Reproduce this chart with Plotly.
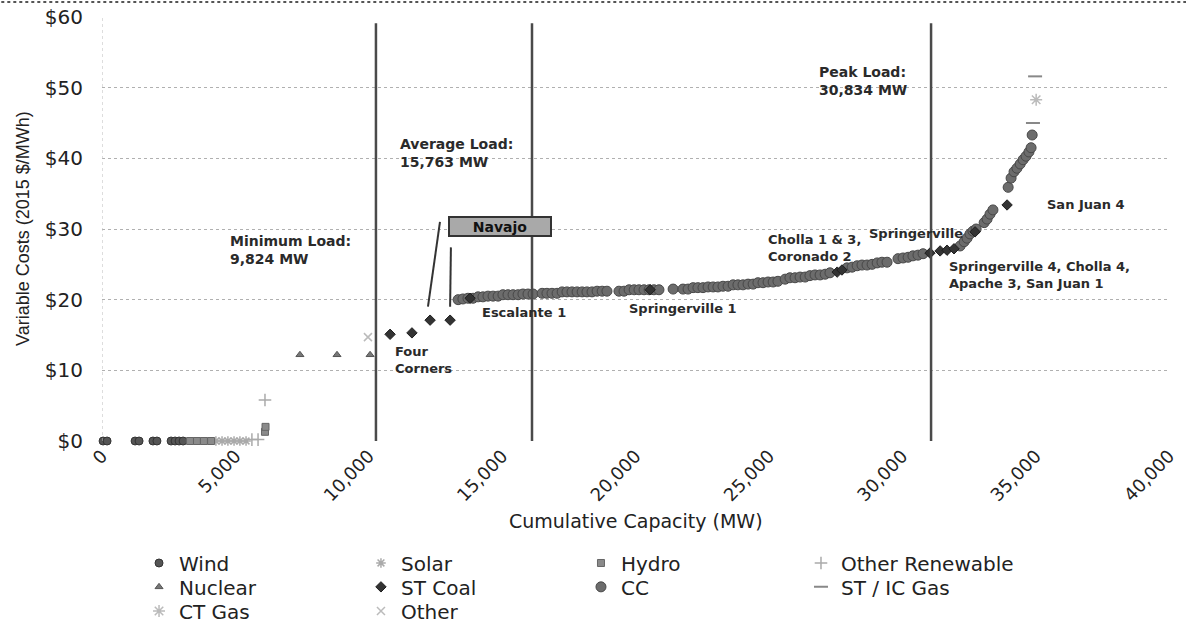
import plotly.graph_objects as go

# ---------------- data: cumulative capacity (MW) and variable cost (2015 $/MWh) -------------
wind_mw = [40, 190, 1240, 1390, 1910, 2060, 2590, 2740, 2890, 3040]
wind_cost = [0, 0, 0, 0, 0, 0, 0, 0, 0, 0]

hydro_mw = [3300, 3560, 3820, 4090, 6110, 6130]
hydro_cost = [0, 0, 0, 0, 1.3, 2.0]

solar_mw = [4270, 4500, 4720, 4950, 5170, 5400]
solar_cost = [0, 0, 0, 0, 0, 0]

other_ren_mw = [5620, 5850, 6110]
other_ren_cost = [0.2, 0.2, 5.8]

nuclear_mw = [7420, 8810, 10050]
nuclear_cost = [12.2, 12.2, 12.2]

other_mw = [9970]
other_cost = [14.7]

coal_mw = [10800, 11620, 12300, 13050, 13800, 20550, 27560, 27740,
           31040, 31420, 31680, 31940, 32730, 33930]
coal_cost = [15.1, 15.3, 17.1, 17.1, 20.2, 21.4, 23.9, 24.2,
             26.6, 26.9, 27.0, 27.2, 29.6, 33.4]

cc_mw = [13350, 13530, 13720, 13910, 14100, 14280, 14470, 14660, 14850, 15030, 15220, 15410,
         15600, 15780, 15970, 16160,
         16500, 16680, 16870, 17060, 17250, 17430, 17620, 17810, 18000, 18180, 18370, 18560,
         18750, 18930,
         19380, 19570, 19760, 19950, 20130, 20320, 20510, 20690, 20880,
         21410,
         21780, 21970, 22160, 22340, 22530, 22720, 22910, 23090, 23280, 23470, 23660, 23840,
         24030, 24220, 24410, 24590, 24780, 24970, 25160, 25340,
         25610, 25790, 25980, 26170, 26360, 26540, 26730, 26920, 27110, 27290,
         27930, 28120, 28310, 28490, 28680, 28870, 29060, 29240, 29430,
         29840, 30030, 30220, 30400, 30590, 30780,
         32170, 32320, 32430, 32540, 32650, 32770,
         33070, 33180, 33290, 33400,
         33970, 34080, 34190, 34300, 34420, 34530, 34640, 34750, 34830, 34870]
cc_cost = [20.0, 20.1, 20.2, 20.2, 20.4, 20.4, 20.5, 20.5, 20.5, 20.7, 20.7, 20.7,
           20.7, 20.8, 20.8, 20.8,
           20.9, 20.9, 20.9, 20.9, 21.1, 21.1, 21.1, 21.1, 21.1, 21.1, 21.1, 21.2,
           21.2, 21.2,
           21.2, 21.2, 21.4, 21.4, 21.4, 21.4, 21.4, 21.4, 21.4,
           21.5,
           21.5, 21.5, 21.7, 21.7, 21.7, 21.8, 21.8, 21.8, 21.9, 21.9, 22.1, 22.1,
           22.1, 22.2, 22.2, 22.4, 22.4, 22.5, 22.5, 22.6,
           22.9, 23.1, 23.1, 23.2, 23.2, 23.4, 23.5, 23.5, 23.6, 23.8,
           24.5, 24.6, 24.8, 24.9, 24.9, 25.0, 25.2, 25.3, 25.3,
           25.8, 25.9, 26.0, 26.2, 26.3, 26.5,
           27.6, 28.2, 28.7, 29.3, 29.7, 30.0,
           30.9, 31.4, 32.1, 32.7,
           35.9, 37.2, 38.1, 38.6, 39.2, 39.8, 40.3, 40.9, 41.5, 43.3]

st_ic_gas_mw = [34980, 34900]
st_ic_gas_cost = [51.6, 45.0]

ct_gas_mw = [35020]
ct_gas_cost = [48.3]

# load reference lines (as drawn on the chart)
load_names = ["Minimum Load", "Average Load", "Peak Load"]
load_values_text = ["9,824 MW", "15,763 MW", "30,834 MW"]
load_line_x = [10270, 16120, 31080]

x_ticks = [0, 5000, 10000, 15000, 20000, 25000, 30000, 35000, 40000]
y_ticks = [0, 10, 20, 30, 40, 50, 60]
y_tick_text = ["$0", "$10", "$20", "$30", "$40", "$50", "$60"]

# ---------------- figure ----------------
TXT = "#222222"
fig = go.Figure()

# legend slot for each series: (legend id, x in paper, y in paper)
col_x = [0.0347, 0.2427, 0.4489, 0.6551]
row_y = [-0.2877, -0.344, -0.401]
slots = {
    "Wind": ("legend", col_x[0], row_y[0]),
    "Solar": ("legend2", col_x[1], row_y[0]),
    "Hydro": ("legend3", col_x[2], row_y[0]),
    "Other Renewable": ("legend4", col_x[3], row_y[0]),
    "Nuclear": ("legend5", col_x[0], row_y[1]),
    "ST Coal": ("legend6", col_x[1], row_y[1]),
    "CC": ("legend7", col_x[2], row_y[1]),
    "ST / IC Gas": ("legend8", col_x[3], row_y[1]),
    "CT Gas": ("legend9", col_x[0], row_y[2]),
    "Other": ("legend10", col_x[1], row_y[2]),
}


def add(name, xs, ys, symbol, color, size, line_color=None, line_width=0):
    fig.add_trace(go.Scatter(
        x=xs, y=ys, mode="markers", name=name, legend=slots[name][0],
        cliponaxis=False,
        marker=dict(symbol=symbol, color=color, size=size,
                    line=dict(color=line_color or color, width=line_width)),
    ))


add("Wind", wind_mw, wind_cost, "circle", "#555555", 8, "#333333", 1)
add("Solar", solar_mw, solar_cost, "asterisk-open", "#aaaaaa", 8, "#aaaaaa", 1.5)
add("Hydro", hydro_mw, hydro_cost, "square", "#8a8a8a", 7, "#666666", 1)
add("Other Renewable", other_ren_mw, other_ren_cost, "cross-thin-open", "#aaaaaa", 9, "#a0a0a0", 1.5)
add("Nuclear", nuclear_mw, nuclear_cost, "triangle-up", "#777777", 7, "#555555", 1)
add("CC", cc_mw, cc_cost, "circle", "#6c6c6c", 10, "#484848", 1)
add("ST Coal", coal_mw, coal_cost, "diamond", "#333333", 8, "#1e1e1e", 1)
add("ST / IC Gas", st_ic_gas_mw, st_ic_gas_cost, "line-ew-open", "#888888", 10, "#888888", 2)
add("CT Gas", ct_gas_mw, ct_gas_cost, "asterisk-open", "#bbbbbb", 10, "#b5b5b5", 1.5)
add("Other", other_mw, other_cost, "x-thin-open", "#bbbbbb", 8, "#b5b5b5", 1.5)

shapes = []
for xv in load_line_x:
    shapes.append(dict(type="line", xref="x", yref="y", x0=xv, x1=xv, y0=0, y1=59.1,
                       line=dict(color="#4a4a4a", width=2.5)))
shapes.append(dict(type="line", xref="x", yref="y", x0=0, x1=0, y0=0, y1=60,
                   line=dict(color="#bbbbbb", width=1, dash="dot")))
# Navajo callout lines
shapes.append(dict(type="line", xref="x", yref="y", x0=12670, y0=31.0, x1=12220, y1=19.0,
                   line=dict(color="#333333", width=2)))
shapes.append(dict(type="line", xref="x", yref="y", x0=13080, y0=27.4, x1=13050, y1=19.0,
                   line=dict(color="#333333", width=2)))
# top border of the picture
shapes.append(dict(type="line", xref="paper", yref="paper", x0=-0.1, x1=1.02, y0=1.0354, y1=1.0354,
                   line=dict(color="#555555", width=2, dash="dot")))

lab_font = dict(family="DejaVu Sans", size=13, color="#2a2a2a", weight="bold")
load_font = dict(family="DejaVu Sans", size=14, color="#2a2a2a", weight="bold")


def lab(x, y, text, font=lab_font):
    return dict(x=x, y=y, xref="x", yref="y", text=text, showarrow=False,
                xanchor="left", yanchor="middle", align="left", font=font)


annotations = [
    lab(4720, 27.0, load_names[0] + ":<br>" + load_values_text[0], load_font),
    lab(11100, 40.7, load_names[1] + ":<br>" + load_values_text[1], load_font),
    lab(26800, 50.9, load_names[2] + ":<br>" + load_values_text[2], load_font),
    lab(10910, 11.5, "Four<br>Corners"),
    lab(14170, 18.25, "Escalante 1"),
    lab(19680, 18.8, "Springerville 1"),
    lab(24890, 27.3, "Cholla 1 & 3,<br>Coronado 2"),
    lab(28680, 29.4, "Springerville"),
    lab(31680, 23.5, "Springerville 4, Cholla 4,<br>Apache 3, San Juan 1"),
    lab(35350, 33.4, "San Juan 4"),
    dict(x=14920, y=30.4, xref="x", yref="y", text="Navajo", showarrow=False,
         xanchor="center", yanchor="middle", width=100, height=17,
         bgcolor="#a9a9a9", bordercolor="#333333", borderwidth=2, borderpad=0,
         font=dict(family="DejaVu Sans", size=14, color="#111111", weight="bold")),
    dict(x=-0.074, y=0.5, xref="paper", yref="paper", text="Variable Costs (2015 $/MWh)",
         textangle=-90, showarrow=False, xanchor="center", yanchor="middle",
         font=dict(family="Liberation Sans", size=18, color=TXT)),
    dict(x=0.5, y=-0.1887, xref="paper", yref="paper", text="Cumulative Capacity (MW)",
         showarrow=False, xanchor="center", yanchor="middle",
         font=dict(family="DejaVu Sans", size=19, color=TXT)),
]

legends = {}
for name, (lid, lx, ly) in slots.items():
    legends[lid] = dict(orientation="h", xanchor="left", yanchor="middle", x=lx, y=ly,
                        itemsizing="trace", bgcolor="rgba(0,0,0,0)", borderwidth=0,
                        font=dict(family="DejaVu Sans", size=20, color=TXT))

fig.update_layout(
    width=1186, height=627,
    margin=dict(l=102, r=17, t=17, b=186, autoexpand=False),
    paper_bgcolor="white", plot_bgcolor="white",
    showlegend=True,
    xaxis=dict(range=[0, 40000], tickvals=x_ticks, tickformat=",", tickangle=-46,
               showgrid=False, zeroline=False, showline=False, ticks="",
               tickfont=dict(family="DejaVu Sans", size=18, color=TXT)),
    yaxis=dict(range=[0, 60], tickmode="array", tickvals=y_ticks, ticktext=y_tick_text,
               showgrid=True, gridcolor="#b0b0b0", griddash="dot", gridwidth=1,
               zeroline=False, showline=False, ticks="", ticklabelstandoff=18,
               tickfont=dict(family="DejaVu Sans", size=20, color=TXT)),
    shapes=shapes,
    annotations=annotations,
    **legends,
)

fig.write_html("out.html", config={"displayModeBar": False},
               post_script="document.body.style.margin='0';")
